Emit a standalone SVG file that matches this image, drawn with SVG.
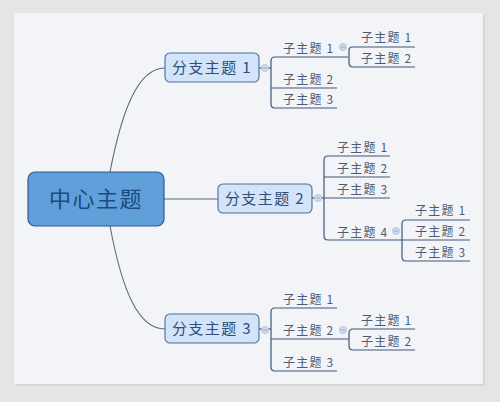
<svg xmlns="http://www.w3.org/2000/svg" width="500" height="402" viewBox="0 0 500 402">
<style>
.ln{fill:none;stroke:#3d5878;stroke-width:1.2}
.cv{fill:none;stroke:#5a6c84;stroke-width:1.1}
.sub{font-family:"Noto Sans CJK SC","Noto Sans",sans-serif;font-size:12px;fill:#4d5c72;letter-spacing:1.2px}
.br rect{fill:#d2e3fa;stroke:#4a6d9c;stroke-width:1.1}
.br text{font-family:"Noto Sans CJK SC","Noto Sans",sans-serif;font-size:15px;fill:#2f4f78;letter-spacing:1.4px;text-anchor:middle}
.tg{fill:#cfdcee;stroke:#a8bcd6;stroke-width:0.8}
.tgm{stroke:#8aa0bf;stroke-width:0.8}
</style>
<rect x="0" y="0" width="500" height="402" fill="#e5e5e5"/>
<rect x="16" y="15" width="469" height="371" fill="#d6d6d6"/>
<rect x="14" y="13" width="469" height="371" fill="#f2f4f8"/>
<g id="connectors">
<path class="cv" d="M110,172 C122,110 138,68 165,68"/>
<path class="cv" d="M164,199 H218"/>
<path class="cv" d="M110,226 C122,290 138,329 165,329"/>
<path class="ln" d="M259,68 H271"/>
<path class="ln" d="M348,57 H275 Q271,57 271,61 V104 Q271,108 275,108 H337"/>
<path class="ln" d="M271,88 H337"/>
<path class="ln" d="M415,47 H352 Q349,47 349,50 V63 Q349,67 353,67 H415"/>
<path class="ln" d="M312,198 H324"/>
<path class="ln" d="M390,156 H328 Q324,156 324,160 V236 Q324,240 328,240 H470"/>
<path class="ln" d="M324,177 H390 M324,198 H390"/>
<path class="ln" d="M470,220 H406 Q402,220 402,224 V257 Q402,261 406,261 H470"/>
<path class="ln" d="M259,329 H271"/>
<path class="ln" d="M337,308 H275 Q271,308 271,312 V367 Q271,371 275,371 H337"/>
<path class="ln" d="M271,339 H349"/>
<path class="ln" d="M415,329 H353 Q349,329 349,333 V346 Q349,350 353,350 H415"/>
<g id="toggles">
<circle class="tg" cx="265" cy="68" r="3.5"/><path class="tgm" d="M263,68 H267"/>
<circle class="tg" cx="343" cy="47" r="3.5"/><path class="tgm" d="M341,47 H345"/>
<circle class="tg" cx="318" cy="198" r="3.5"/><path class="tgm" d="M316,198 H320"/>
<circle class="tg" cx="396" cy="231" r="3.5"/><path class="tgm" d="M394,231 H398"/>
<circle class="tg" cx="265" cy="330" r="3.5"/><path class="tgm" d="M263,330 H267"/>
<circle class="tg" cx="343" cy="330" r="3.5"/><path class="tgm" d="M341,330 H345"/>
</g>
</g>
<g id="center">
<rect x="28" y="172" width="136" height="54" rx="7" fill="#60a0da" stroke="#2c5b8a" stroke-width="1.2"/>
<text x="96" y="207" text-anchor="middle" font-family="Noto Sans CJK SC, Noto Sans, sans-serif" font-size="22" fill="#1d4a78" letter-spacing="1.5">中心主题</text>
</g>
<g id="branch1" class="br"><rect x="165" y="53" width="94" height="29" rx="5"/><text x="212" y="72.5">分支主题 1</text></g>
<g id="branch2" class="br"><rect x="218" y="184" width="94" height="29" rx="5"/><text x="265" y="203.5">分支主题 2</text></g>
<g id="branch3" class="br"><rect x="165" y="314" width="94" height="29" rx="5"/><text x="212" y="333.5">分支主题 3</text></g>
<g id="b1-subs">
<text class="sub" x="283" y="52.5">子主题 1</text>
<text class="sub" x="283" y="83.5">子主题 2</text>
<text class="sub" x="283" y="103.5">子主题 3</text>
<text class="sub" x="361" y="41.5">子主题 1</text>
<text class="sub" x="361" y="62.5">子主题 2</text>
</g>
<g id="b2-subs">
<text class="sub" x="337" y="151.5">子主题 1</text>
<text class="sub" x="337" y="172.5">子主题 2</text>
<text class="sub" x="337" y="193.5">子主题 3</text>
<text class="sub" x="337" y="236.5">子主题 4</text>
<text class="sub" x="415" y="214.5">子主题 1</text>
<text class="sub" x="415" y="235.5">子主题 2</text>
<text class="sub" x="415" y="256.5">子主题 3</text>
</g>
<g id="b3-subs">
<text class="sub" x="283" y="303.5">子主题 1</text>
<text class="sub" x="283" y="334.5">子主题 2</text>
<text class="sub" x="283" y="366.5">子主题 3</text>
<text class="sub" x="361" y="324.5">子主题 1</text>
<text class="sub" x="361" y="345.5">子主题 2</text>
</g>
</svg>
